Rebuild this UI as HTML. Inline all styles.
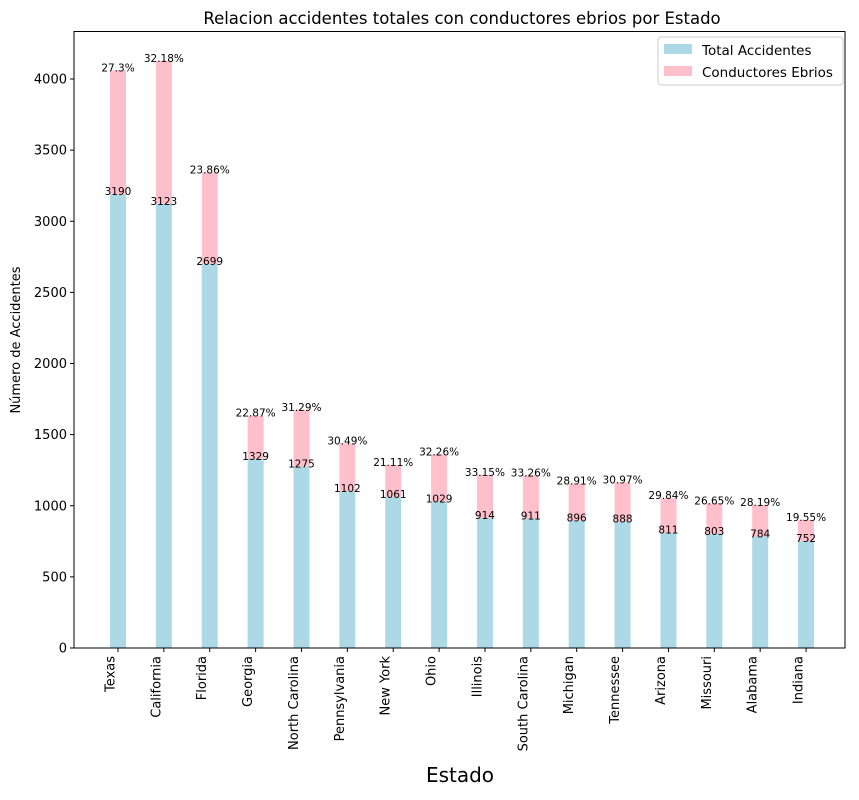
<!DOCTYPE html>
<html><head><meta charset="utf-8"><style>
body{margin:0;background:#fff;}
svg text{font-family:"DejaVu Sans","Liberation Sans",sans-serif;fill:#000;}
</style></head><body>
<svg id="chart" width="859" height="795" viewBox="0 0 859 795" xmlns="http://www.w3.org/2000/svg">
<rect width="859" height="795" fill="#fff"/>
<text x="462" y="24" font-size="16.5" text-anchor="middle">Relacion accidentes totales con conductores ebrios por Estado</text>
<g id="bars"></g>
<g id="axes"></g>
<text transform="translate(20,340) rotate(-90)" font-size="13" text-anchor="middle">Número de Accidentes</text>
<text x="460" y="782" font-size="20" text-anchor="middle">Estado</text>
<rect x="74" y="31.5" width="771" height="616.5" fill="none" stroke="#000" stroke-width="1"/>
<g>
<rect x="658" y="37" width="185" height="48" rx="3" fill="#fff" stroke="#ccc"/>
<rect x="664" y="44" width="28" height="10" fill="#add8e6"/>
<text x="702" y="55" font-size="13.5">Total Accidentes</text>
<rect x="664" y="66" width="28" height="10" fill="#ffc0cb"/>
<text x="702" y="77" font-size="13.5">Conductores Ebrios</text>
</g>
</svg>
<script>
const states=["Texas","California","Florida","Georgia","North Carolina","Pennsylvania","New York","Ohio","Illinois","South Carolina","Michigan","Tennessee","Arizona","Missouri","Alabama","Indiana"];
const totals=[3190,3123,2699,1329,1275,1102,1061,1029,914,911,896,888,811,803,784,752];
const pcts=[27.3,32.18,23.86,22.87,31.29,30.49,21.11,32.26,33.15,33.26,28.91,30.97,29.84,26.65,28.19,19.55];
const yTicks=[0,500,1000,1500,2000,2500,3000,3500,4000];
const NS="http://www.w3.org/2000/svg";
const y0=648,pxPer=569/4000;
function yS(v){return y0-v*pxPer;}
function xS(i){return 118+i*45.87;}
const bw=16;
const bars=document.getElementById('bars'),axes=document.getElementById('axes');
function mk(tag,attrs,parent){const e=document.createElementNS(NS,tag);for(const k in attrs)e.setAttribute(k,attrs[k]);parent.appendChild(e);return e;}
states.forEach((s,i)=>{
  const t=totals[i],d=t*pcts[i]/100,cx=xS(i);
  const b=mk('rect',{x:cx-bw/2,y:yS(t),width:bw,height:yS(0)-yS(t),fill:'#add8e6'},bars);
  
  
  const p=mk('rect',{x:cx-bw/2,y:yS(t+d),width:bw,height:yS(t)-yS(t+d),fill:'#ffc0cb'},bars);
  
  
  const l1=mk('text',{x:cx,y:yS(t)+1,'font-size':'10.5','text-anchor':'middle'},bars);
  l1.textContent=t;
  
  
  const l2=mk('text',{x:cx,y:yS(t+d)+1,'font-size':'10.5','text-anchor':'middle'},bars);
  l2.textContent=pcts[i]+'%';
  
  
  mk('line',{x1:cx,x2:cx,y1:648,y2:652,stroke:'#000'},axes);
  const tl=mk('text',{transform:`translate(${cx-3.5},656) rotate(-90)`,'font-size':'13','text-anchor':'end'},axes);
  tl.textContent=s;
  
  
});
yTicks.forEach(v=>{
  const y=yS(v);
  mk('line',{x1:70,x2:74,y1:y,y2:y,stroke:'#000'},axes);
  const t=mk('text',{x:67,y:y+4.5,'font-size':'13','text-anchor':'end'},axes);
  t.textContent=v;
  
  
});
</script>
</body></html>
